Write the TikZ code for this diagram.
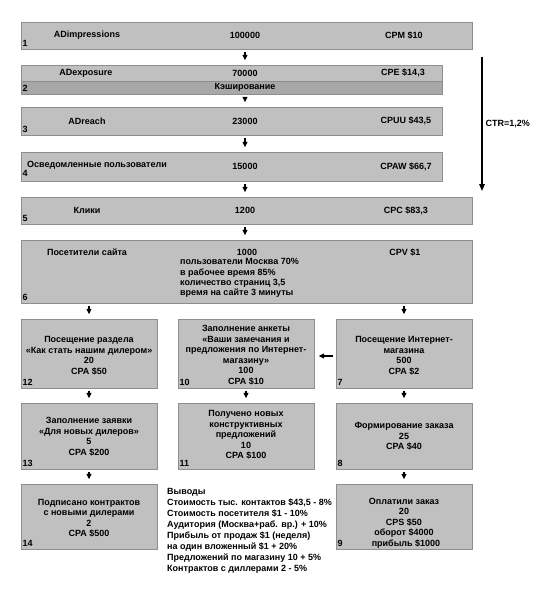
\documentclass[tikz,border=0pt]{standalone}
\usepackage{fontspec}
\setmainfont{Liberation Sans}
\usetikzlibrary{arrows.meta}

\definecolor{barfill}{HTML}{C0C0C0}
\definecolor{bandfill}{HTML}{A8A8A8}
\definecolor{barline}{HTML}{8E8E8E}

\begin{document}
\begin{tikzpicture}[
        x=1pt, y=-1pt,
        every node/.style={font=\bfseries\fontsize{9}{10.5}\selectfont},
        bar/.style={rectangle, draw=barline, fill=barfill, inner sep=0pt, align=center},
        num/.style={anchor=south west, inner sep=0pt, xshift=1.5pt, yshift=2.5pt},
        flow/.style={-{Triangle[length=5.5pt,width=5pt]}, line width=1.2pt, shorten <=3pt, shorten >=4.5pt},
        ctr/.style={-{Triangle[length=7pt,width=5.5pt]}, line width=1.4pt}
    ]
        \useasboundingbox (0,0) rectangle (550,594);
        \coordinate (midx) at (245,0);
        % funnel bars
        \node[bar, minimum width=451, minimum height=27] (impr) at (246.5,35.5) {};
        \node (t-impr) at (87,35.5) {ADimpressions};
        \node (v-impr) at (245,35.5) {100000};
        \node (c-impr) at (404,35.5) {CPM \$10};
        \node[num] (n-impr) at (impr.south west) {1};

        \node[bar, minimum width=421, minimum height=29] (expo) at (231.5,79.5) {};
        \node[bar, fill=bandfill, minimum width=421, minimum height=13] (cache) at (231.5,87.5) {};
        \node (t-expo) at (86,73) {ADexposure};
        \node (v-expo) at (245,73) {70000};
        \node (c-expo) at (403,73) {CPE \$14,3};
        \node (t-cache) at (245,87.5) {Кэширование};
        \node[num] (n-expo) at (expo.south west) {2};

        \node[bar, minimum width=421, minimum height=28] (reach) at (231.5,121) {};
        \node (t-reach) at (87,121) {ADreach};
        \node (v-reach) at (245,121) {23000};
        \node (c-reach) at (406,121) {CPUU \$43,5};
        \node[num] (n-reach) at (reach.south west) {3};

        \node[bar, minimum width=421, minimum height=29] (aware) at (231.5,166.5) {};
        \node[anchor=west, inner sep=0pt] (t-aware) at (27,165) {Осведомленные пользователи};
        \node (v-aware) at (245,166.5) {15000};
        \node (c-aware) at (406,166.5) {CPAW \$66,7};
        \node[num, yshift=2pt] (n-aware) at (aware.south west) {4};

        \node[bar, minimum width=451, minimum height=27] (clicks) at (246.5,210.5) {};
        \node (t-clicks) at (87,210.5) {Клики};
        \node (v-clicks) at (245,210.5) {1200};
        \node (c-clicks) at (406,210.5) {CPC \$83,3};
        \node[num] (n-clicks) at (clicks.south west) {5};

        \node[bar, minimum width=451, minimum height=63] (visit) at (246.5,271.5) {};
        \node (t-visit) at (87,252) {Посетители сайта};
        \node[inner sep=0pt] (v-visit) at (247,252) {1000};
        \node (c-visit) at (405,252) {CPV \$1};
        \node[anchor=north west, inner sep=0pt, align=left,
              font=\bfseries\fontsize{9}{10.3}\selectfont] (d-visit) at (180,258.5) {%
            пользователи Москва 70\%\\
            в рабочее время 85\%\\
            количество страниц 3,5\\
            время на сайте 3 минуты};
        \node[num] (n-visit) at (visit.south west) {6};

        % three columns
        \node[bar, minimum width=136, minimum height=69] (b12) at (89,353.5) {};
        \node[align=center] (t12) at (89,355.5)
            {Посещение раздела\\«Как стать нашим дилером»\\20\\CPA \$50};
        \node[bar, minimum width=136, minimum height=69] (b10) at (246,353.5) {};
        \node[align=center] (t10) at (246,355)
            {Заполнение анкеты\\«Ваши замечания и\\предложения по Интернет-\\магазину»\\100\\CPA \$10};
        \node[bar, minimum width=136, minimum height=69] (b7) at (404,353.5) {};
        \node[align=center] (t7) at (404,355.5)
            {Посещение Интернет-\\магазина\\500\\CPA \$2};
        \node[num] (n12) at (b12.south west) {12};
        \node[num] (n10) at (b10.south west) {10};
        \node[num] (n7) at (b7.south west) {7};

        \node[bar, minimum width=136, minimum height=66] (b13) at (89,436) {};
        \node[align=center] (t13) at (89,436.5)
            {Заполнение заявки\\«Для новых дилеров»\\5\\CPA \$200};
        \node[bar, minimum width=136, minimum height=66] (b11) at (246,436) {};
        \node[align=center] (t11) at (246,435)
            {Получено новых\\конструктивных\\предложений\\10\\CPA \$100};
        \node[bar, minimum width=136, minimum height=66] (b8) at (404,436) {};
        \node[align=center] (t8) at (404,436.5)
            {Формирование заказа\\25\\CPA \$40};
        \node[num] (n13) at (b13.south west) {13};
        \node[num] (n11) at (b11.south west) {11};
        \node[num] (n8) at (b8.south west) {8};

        \node[bar, minimum width=136, minimum height=65] (b14) at (89,516.5) {};
        \node[align=center] (t14) at (89,518)
            {Подписано контрактов\\с новыми дилерами\\2\\CPA \$500};
        \node[bar, minimum width=136, minimum height=65] (b9) at (404,516.5) {};
        \node[align=center] (t9) at (404,523)
            {Оплатили заказ\\20\\CPS \$50\\оборот \$4000\\\hspace{4pt}прибыль \$1000};
        \node[num] (n14) at (b14.south west) {14};
        \node[num] (n9) at (b9.south west) {9};

        \node[anchor=north west, inner sep=0pt, align=left,
              font=\bfseries\fontsize{9}{11}\selectfont] (summary) at (167,488) {%
            Выводы\\
            Стоимость тыс. контактов \$43,5 - 8\%\\
            Стоимость посетителя \$1 - 10\%\\
            Аудитория (Москва+раб. вр.) + 10\%\\
            Прибыль от продаж \$1 (неделя)\\
            на один вложенный \$1 + 20\%\\
            Предложений по магазину 10 + 5\%\\
            Контрактов с диллерами 2 - 5\%};

        % arrows
        \draw[flow] (impr.south -| midx) -- (expo.north -| midx);
        \draw[flow] (expo.south -| midx) -- (reach.north -| midx);
        \draw[flow] (reach.south -| midx) -- (aware.north -| midx);
        \draw[flow] (aware.south -| midx) -- (clicks.north -| midx);
        \draw[flow] (clicks.south -| midx) -- (visit.north -| midx);
        \draw[flow] (visit.south -| b12.north) -- (b12.north);
        \draw[flow] (visit.south -| b7.north) -- (b7.north);
        \draw[flow] (b12) -- (b13);
        \draw[flow] (b10) -- (b11);
        \draw[flow] (b7) -- (b8);
        \draw[flow] (b13) -- (b14);
        \draw[flow] (b8) -- (b9);
        \draw[flow] ([yshift=-2.5pt]b7.west) -- ([yshift=-2.5pt]b10.east);

        \coordinate (ctrtop) at (482,57);
        \coordinate (ctrend) at (482,191);
        \draw[ctr] (ctrtop) -- (ctrend) node[midway, right, inner sep=3pt] (t-ctr) {CTR=1,2\%};
    \end{tikzpicture}
\end{document}
